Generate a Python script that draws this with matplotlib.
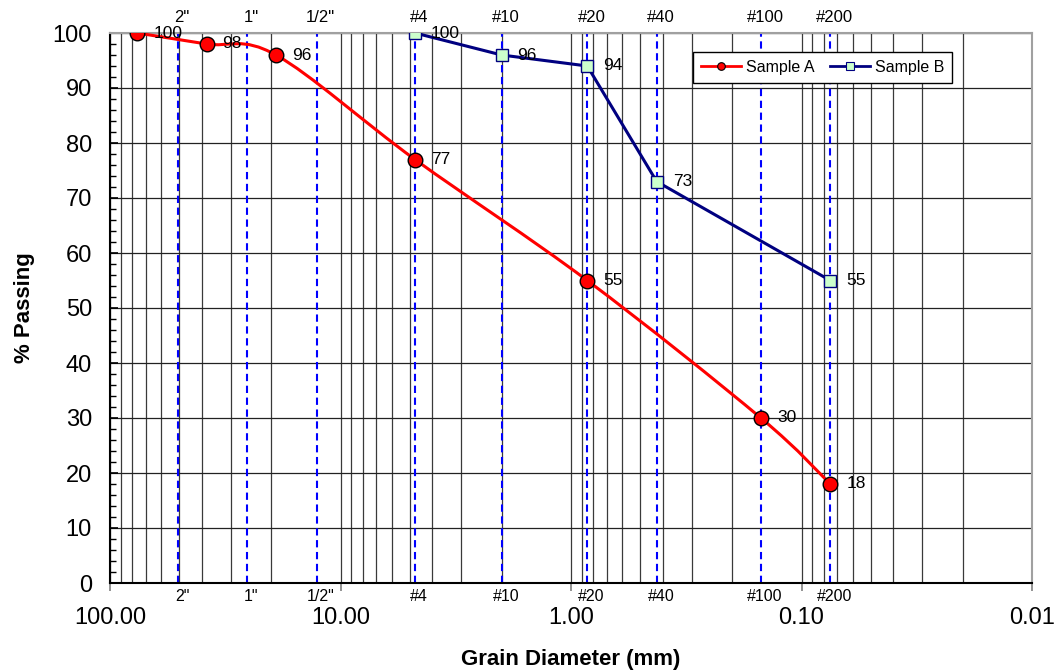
import numpy as np
import matplotlib
matplotlib.use("Agg")
import matplotlib.pyplot as plt
from matplotlib.path import Path
from matplotlib.patches import PathPatch
from matplotlib.lines import Line2D
from matplotlib.ticker import FixedLocator, MultipleLocator, FuncFormatter, NullFormatter

plt.rcParams['font.family'] = ['Liberation Sans', 'DejaVu Sans']

# ---- data ----
sieve_labels = ['2"', '1"', '1/2"', '#4', '#10', '#20', '#40', '#100', '#200']
sieve_sizes = [50.8, 25.4, 12.7, 4.75, 2.0, 0.85, 0.425, 0.15, 0.075]

a_diam = [76.2, 38.1, 19.05, 4.75, 0.85, 0.15, 0.075]
a_pass = [100, 98, 96, 77, 55, 30, 18]

b_diam = [4.75, 2.0, 0.85, 0.425, 0.075]
b_pass = [100, 96, 94, 73, 55]

x_major = [100, 10, 1, 0.1, 0.01]
y_major = [0, 10, 20, 30, 40, 50, 60, 70, 80, 90, 100]

# ---- figure ----
W, H = 1057, 671
fig = plt.figure(figsize=(W / 100, H / 100), dpi=100)
ax = fig.add_axes([110 / W, 1 - 583 / H, 922 / W, 550 / H])
ax.set_xscale('log')
ax.set_xlim(100, 0.01)
ax.set_ylim(0, 100)

# grid
minor_x = [m * 10.0 ** e for e in range(-2, 2) for m in range(2, 10)]
for xv in minor_x + x_major:
    ax.axvline(xv, color='#3a3a3a', lw=0.9, zorder=1)
for yv in y_major:
    ax.axhline(yv, color='#222222', lw=0.9, zorder=1)

# sieve lines
for s in sieve_sizes:
    ax.axvline(s, color='#0000FF', lw=1.5, linestyle=(0, (3.5, 2.2)), zorder=2)

# sieve labels top & bottom
for s, lbl in zip(sieve_sizes, sieve_labels):
    ax.annotate(lbl, xy=(s, 1), xycoords=('data', 'axes fraction'),
                xytext=(3, 11.5), textcoords='offset points',
                ha='center', va='center', fontsize=12)
    ax.annotate(lbl, xy=(s, 0), xycoords=('data', 'axes fraction'),
                xytext=(3, -9.7), textcoords='offset points',
                ha='center', va='center', fontsize=11.5)

# Sample A: smoothed line (Catmull-Rom style bezier in log-x space)
u = np.log10(np.array(a_diam))
v = np.array(a_pass, dtype=float)
P = np.column_stack([u, v])
n = len(P)
verts = [P[0]]
codes = [Path.MOVETO]
for i in range(n - 1):
    p_prev = P[i - 1] if i > 0 else P[i]
    p_next2 = P[i + 2] if i + 2 < n else P[i + 1]
    c1 = P[i] + (P[i + 1] - p_prev) / 6.0
    c2 = P[i + 1] - (p_next2 - P[i]) / 6.0
    verts += [c1, c2, P[i + 1]]
    codes += [Path.CURVE4] * 3
verts = np.array(verts)
verts[:, 0] = 10.0 ** verts[:, 0]
patch = PathPatch(Path(verts, codes), facecolor='none', edgecolor='#FF0000',
                  lw=2.2, zorder=4, capstyle='round', joinstyle='round')
ax.add_patch(patch)
ax.plot(a_diam, a_pass, linestyle='none', marker='o', ms=10.5,
        mfc='#FF0000', mec='black', mew=1.0, zorder=6)

# Sample B
ax.plot(b_diam, b_pass, color='#000080', lw=2.2, marker='s', ms=8,
        mfc='#CCFFCC', mec='#000080', mew=1.0, zorder=5)

# data labels
for xv, yv in zip(a_diam, a_pass):
    ax.annotate(str(yv), xy=(xv, yv), xytext=(11.5, 0), textcoords='offset points',
                ha='left', va='center', fontsize=12.5, zorder=7)
for xv, yv in zip(b_diam, b_pass):
    ax.annotate(str(yv), xy=(xv, yv), xytext=(11.5, 0), textcoords='offset points',
                ha='left', va='center', fontsize=12.5, zorder=7)

# axes formatting
ax.xaxis.set_major_locator(FixedLocator(x_major))
ax.xaxis.set_major_formatter(FuncFormatter(lambda x, p: f"{x:.2f}"))
ax.xaxis.set_minor_locator(FixedLocator([]))
ax.xaxis.set_minor_formatter(NullFormatter())
ax.yaxis.set_major_locator(FixedLocator(y_major))
ax.yaxis.set_minor_locator(MultipleLocator(2))
ax.tick_params(axis='x', which='major', direction='out', length=5.5, width=1.2,
               color='#808080', pad=12, labelsize=17)
ax.tick_params(axis='y', which='major', direction='in', length=6, width=1.2,
               color='black', pad=13, labelsize=17)
ax.tick_params(axis='y', which='minor', direction='in', length=4.5, width=1.0,
               color='black')

for side in ['left', 'bottom']:
    ax.spines[side].set_color('black')
    ax.spines[side].set_linewidth(1.5)
for side in ['top', 'right']:
    ax.spines[side].set_color('#a0a0a0')
    ax.spines[side].set_linewidth(1.5)

ax.set_xlabel('Grain Diameter (mm)', fontsize=16, fontweight='bold', labelpad=14)
ax.set_ylabel('% Passing', fontsize=16, fontweight='bold', labelpad=13)

# legend
h_a = Line2D([], [], color='#FF0000', lw=2.0, marker='o', ms=5.5, mfc='#FF0000', mec='black', mew=0.8)
h_b = Line2D([], [], color='#000080', lw=2.0, marker='s', ms=5.5, mfc='#CCFFCC', mec='#000080', mew=0.8)
leg = ax.legend([h_a, h_b], ['Sample A', 'Sample B'], loc='upper left',
                bbox_to_anchor=((693 - 110) / 922, (583 - 52) / 550),
                ncol=2, fontsize=11.5, frameon=True, fancybox=False,
                edgecolor='black', framealpha=1, handlelength=2.5,
                handletextpad=0.3, columnspacing=1.0, borderpad=0.5,
                borderaxespad=0)
leg.get_frame().set_linewidth(1.0)
leg.set_zorder(10)

fig.savefig('out.png', dpi=100)
